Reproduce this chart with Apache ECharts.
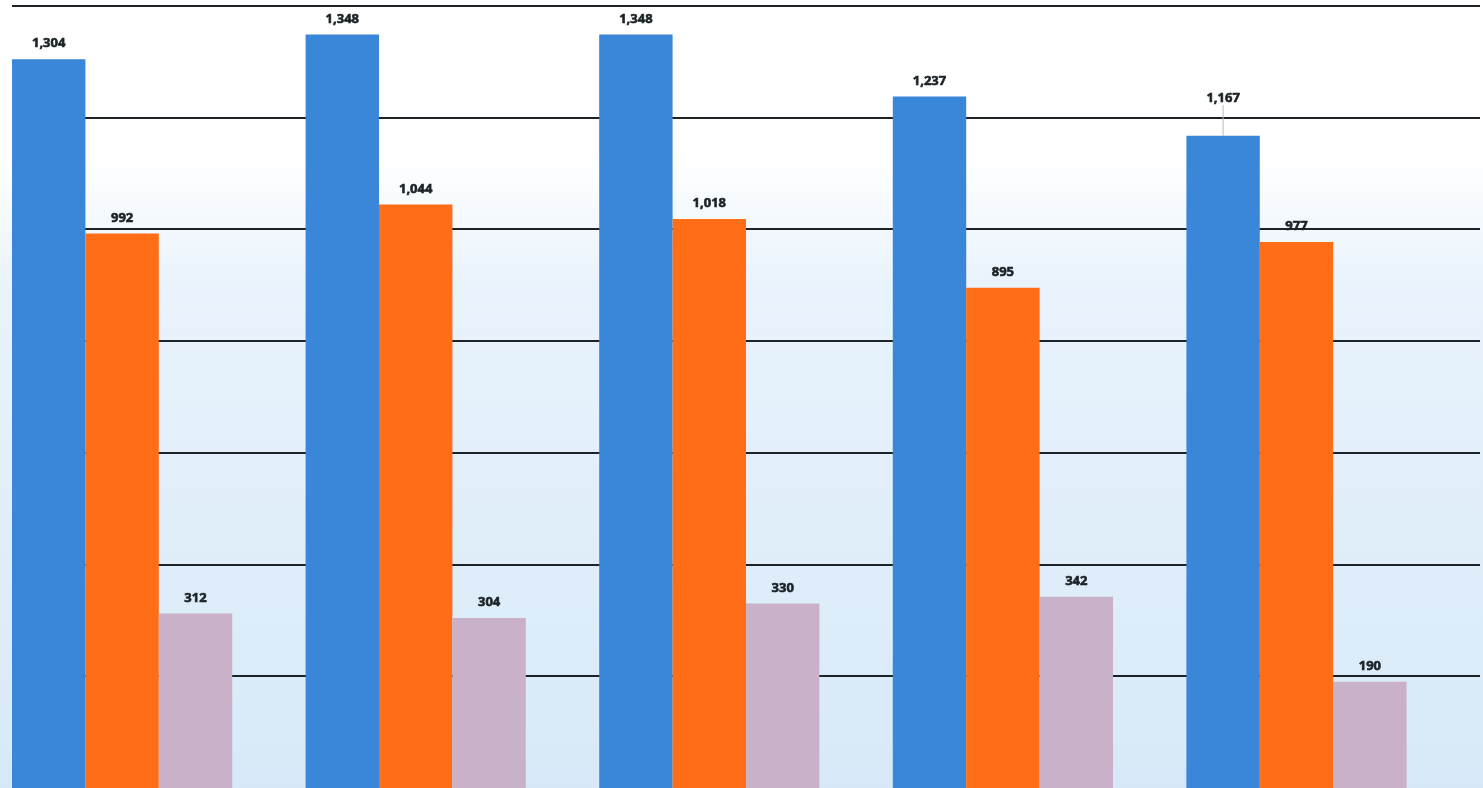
<!DOCTYPE html>
<html>
<head>
<meta charset="utf-8">
<script src="https://cdn.jsdelivr.net/npm/echarts@6/dist/echarts.min.js"></script>
<style>
  html, body { margin: 0; padding: 0; background: #fff; }
  #chart { width: 1483px; height: 788px; }
</style>
</head>
<body>
<div id="chart"></div>
<script>
// Five groups, three measures each
const categories = ['A', 'B', 'C', 'D', 'E'];
const blueValues = [1304, 1348, 1348, 1237, 1167];
const orangeValues = [992, 1044, 1018, 895, 977];
const mauveValues = [312, 304, 330, 342, 190];
const yTicks = [0, 200, 400, 600, 800, 1000, 1200, 1400];

const fmt = v => v.toLocaleString('en-US');

const labelStyle = {
  show: true,
  position: 'top',
  distance: 9,
  color: '#1b2226',
  fontFamily: '"Open Sans", "Noto Sans", sans-serif',
  fontWeight: 'bold',
  fontSize: 13,
  textBorderColor: '#1b2226',
  textBorderWidth: 0.6,
  formatter: p => fmt(p.value)
};

function barSeries(values, color, raised) {
  return {
    type: 'bar',
    barWidth: '25%',
    barGap: '0%',
    barCategoryGap: '0%',
    itemStyle: { color: color },
    label: labelStyle,
    labelLine: { show: false },
    labelLayout: raised ? (p => (p.dataIndex === raised ? { dy: -22 } : {})) : undefined,
    data: values.map((v, i) => i === raised
      ? { value: v, labelLine: { show: true, lineStyle: { color: '#b8bcc0', width: 1 } } }
      : v)
  };
}

const chart = echarts.init(document.getElementById('chart'), null, { renderer: 'canvas' });
chart.setOption({
  animation: false,
  backgroundColor: {
    type: 'linear', x: 0, y: 0, x2: 0, y2: 1,
    colorStops: [
      { offset: 0, color: '#ffffff' },
      { offset: 0.2, color: '#ffffff' },
      { offset: 0.36, color: '#e9f3fc' },
      { offset: 1, color: '#d7e9f8' }
    ]
  },
  grid: { left: 12, right: 3, top: 5.5, bottom: -3, containLabel: false },
  xAxis: {
    type: 'category',
    data: categories,
    axisLine: { show: false },
    axisTick: { show: false },
    axisLabel: { show: false }
  },
  yAxis: {
    type: 'value',
    min: yTicks[0],
    max: yTicks[yTicks.length - 1],
    interval: yTicks[1] - yTicks[0],
    axisLine: { show: false },
    axisTick: { show: false },
    axisLabel: { show: false },
    splitLine: { show: true, showMinLine: false, lineStyle: { color: '#1d2226', width: 2 } }
  },
  series: [
    barSeries(blueValues, '#3a86d8', 4),
    barSeries(orangeValues, '#ff6d17'),
    barSeries(mauveValues, '#c8b1c9'),
    // empty fourth slot keeps each group flush to the left of its band
    { type: 'bar', barWidth: '25%', barGap: '0%', data: categories.map(() => null) }
  ]
});
</script>
</body>
</html>
